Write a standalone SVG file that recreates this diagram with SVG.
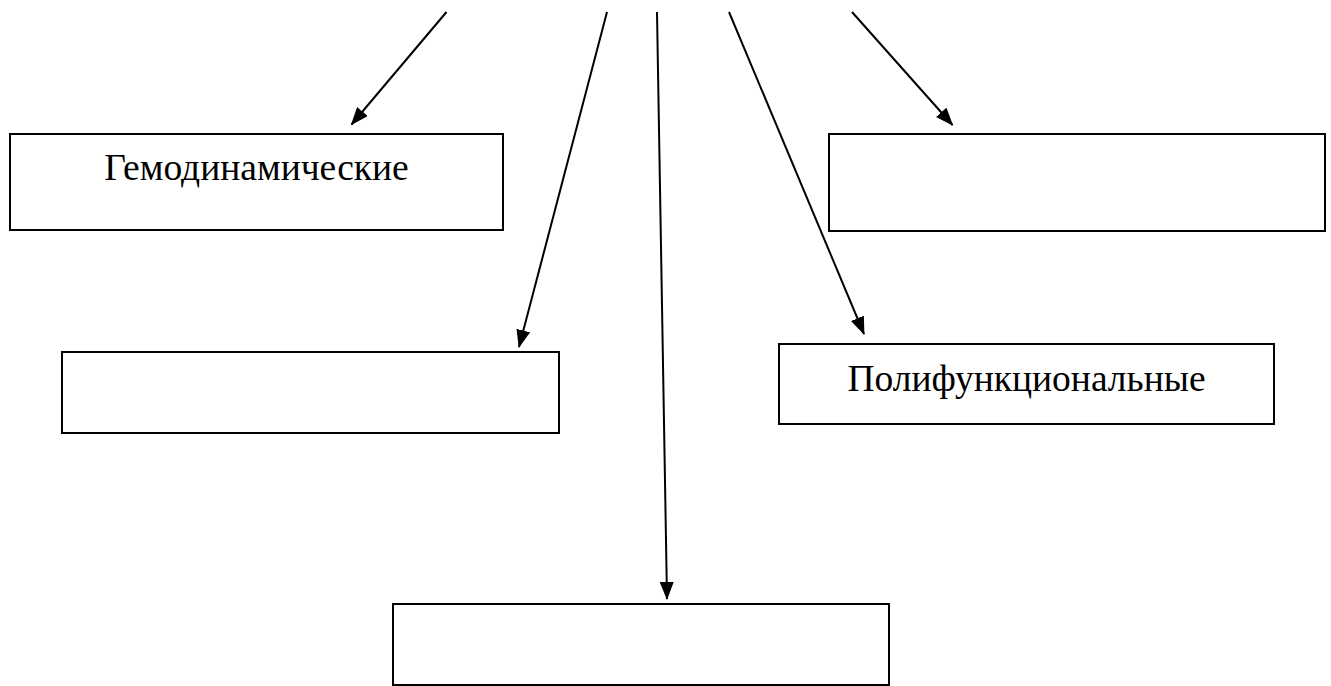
<svg xmlns="http://www.w3.org/2000/svg" width="1331" height="686" viewBox="0 0 1331 686">
<style>
.box{fill:#fff;stroke:#000;stroke-width:2}
.lbl{font-family:"Liberation Serif","Times New Roman",serif;font-size:37.5px;fill:#000;text-anchor:middle}
.conn{stroke:#000;stroke-width:2;fill:none;marker-end:url(#ah)}
</style>
<defs>
<marker id="ah" markerUnits="userSpaceOnUse" viewBox="0 0 18 14" markerWidth="18" markerHeight="14" refX="17" refY="7" orient="auto">
<path d="M0,0 L18,7 L0,14 z" fill="#000"/>
</marker>
</defs>
<rect width="1331" height="686" fill="#fff"/>
<g id="connectors">
<line class="conn" x1="446.5" y1="12" x2="351.5" y2="124.5"/>
<line class="conn" x1="607" y1="12" x2="519" y2="347"/>
<line class="conn" x1="657" y1="12" x2="667" y2="599"/>
<line class="conn" x1="729" y1="12" x2="864" y2="334"/>
<line class="conn" x1="852" y1="12" x2="952.5" y2="125"/>
</g>
<g id="node-hemodynamic">
<rect class="box" x="10" y="134" width="493" height="96"/>
<text class="lbl" x="256.5" y="180">Гемодинамические</text>
</g>
<g id="node-top-right">
<rect class="box" x="829" y="134" width="496" height="97"/>
</g>
<g id="node-middle-left">
<rect class="box" x="62" y="352" width="497" height="81"/>
</g>
<g id="node-polyfunctional">
<rect class="box" x="779" y="344" width="495" height="80"/>
<text class="lbl" x="1026.5" y="391">Полифункциональные</text>
</g>
<g id="node-bottom">
<rect class="box" x="393" y="604" width="496" height="81"/>
</g>
</svg>
